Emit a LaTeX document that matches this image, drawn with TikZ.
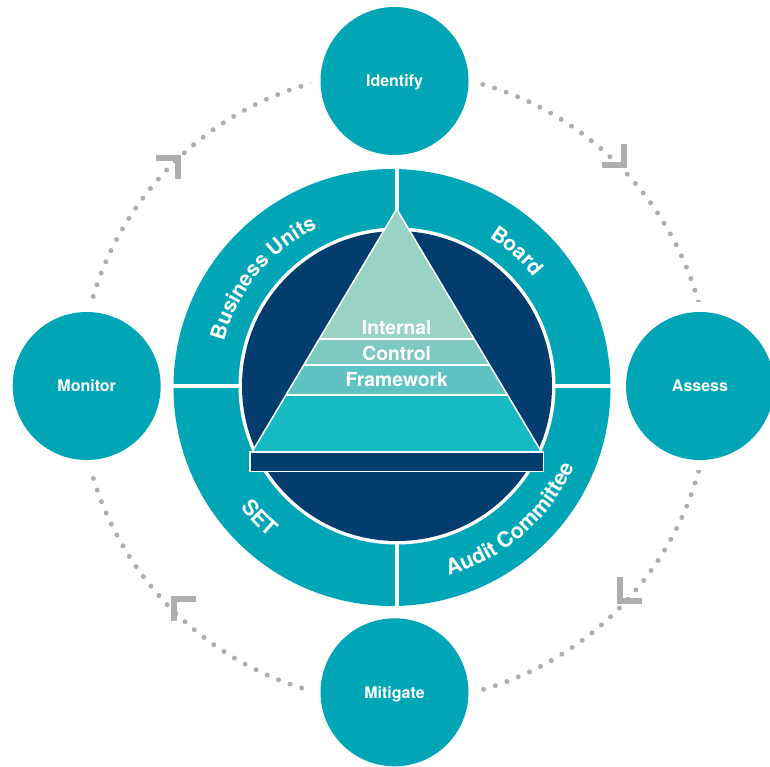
\documentclass[tikz,border=0pt]{standalone}
\usepackage{fontspec}
\setmainfont{TeX Gyre Heros}
\usetikzlibrary{decorations.text,calc}
\definecolor{tealA}{HTML}{00A6B5}
\definecolor{navyA}{HTML}{023D6D}
\definecolor{bandA}{HTML}{98D3C5}
\definecolor{bandB}{HTML}{7ECAC3}
\definecolor{bandC}{HTML}{5EC3C2}
\definecolor{bandD}{HTML}{17BAC2}
\definecolor{dotgray}{HTML}{AEAEB1}
\newcommand\ringfont{\bfseries\fontsize{21}{25}\selectfont}
\newcommand\ringfontB{\bfseries\fontsize{21.5}{25}\selectfont}
\tikzset{
  stage/.style={circle, fill=tealA, minimum size=148pt, inner sep=0pt, text=white,
    font=\bfseries\fontsize{16}{19}\selectfont, text height=11.5pt, text depth=0pt},
  halo/.style={fill=white},
  chevron/.style={draw=dotgray, line width=6pt, miter limit=10},
  dots/.style={draw=dotgray, line width=5pt, line cap=round, dash pattern=on 0pt off 12.3pt},
  pyrtext/.style={text=white, font=\bfseries\fontsize{19.3}{23}\selectfont, inner sep=0pt, anchor=base},
  sep/.style={draw=white, line width=4pt},
  ringlabel/.style={decorate, decoration={text along path, text align=center, text color=white, text={|\ringfont|#1}}},
  ringlabelB/.style={decorate, decoration={text along path, text align=center, text color=white, text={|\ringfontB|#1}}}
}
\begin{document}
\begin{tikzpicture}[x=1pt,y=-1pt]
\useasboundingbox (0,0) rectangle (770,766);
\coordinate (C) at (395,387);
\coordinate (O) at (392,387.5);
\coordinate (I) at (397,386);
% dotted cycle
\path[dots] (C) circle[radius=315pt];
% chevrons
\draw[chevron] (155.7,158) -- (177.7,158) -- (177.7,179.3);
\draw[chevron] (623.7,144) -- (623.7,165.3) -- (602.3,165.3);
\draw[chevron] (619.7,576.7) -- (619.7,601) -- (642.3,601);
\draw[chevron] (195.7,598.7) -- (173.7,598.7) -- (173.7,620.7);
% stage circles
\fill[halo] (394.5,81) circle[radius=84pt];
\fill[halo] (86.7,386) circle[radius=84pt];
\fill[halo] (700,386) circle[radius=84pt];
\fill[halo] (394.5,692.3) circle[radius=84pt];
\node[stage] (identify) at (394.5,81) {Identify};
\node[stage] (monitor) at (86.7,386) {Monitor};
\node[stage] (assess) at (700,386) {Assess};
\node[stage] (mitigate) at (394.5,692.3) {Mitigate};
% ring
\fill[tealA] (O) circle[radius=218.5pt];
\draw[sep] (396.7,165) -- (396.7,612);
\draw[sep] (168,386.3) -- (615,386.3);
\fill[white] (I) circle[radius=158.5pt];
\fill[navyA] (I) circle[radius=155pt];
% ring labels
\path[ringlabel={Business Units}] ($(C)+(180.5:177pt)$) arc[start angle=180.5, end angle=100.5, radius=177pt];
\path[ringlabel={Board}] ($(C)+(78:177pt)$) arc[start angle=78, end angle=18, radius=177pt];
\path[ringlabelB={SET}] ($(C)+(199:196pt)$) arc[start angle=199, end angle=249, radius=196pt];
\path[ringlabelB={Audit Committee}] ($(C)+(266:196pt)$) arc[start angle=266, end angle=356, radius=196pt];
% pyramid
\coordinate (A) at (396.7,209);
\coordinate (BL) at (252,452);
\coordinate (BR) at (541.5,452);
\fill[bandD] (A) -- (BL) -- (BR) -- cycle;
\fill[bandC] (A) -- ($(A)!0.7634!(BL)$) -- ($(A)!0.7634!(BR)$) -- cycle;
\fill[bandB] (A) -- ($(A)!0.6399!(BL)$) -- ($(A)!0.6399!(BR)$) -- cycle;
\fill[bandA] (A) -- ($(A)!0.5329!(BL)$) -- ($(A)!0.5329!(BR)$) -- cycle;
\draw[white, line width=2pt] ($(A)!0.7634!(BL)$) -- ($(A)!0.7634!(BR)$);
\draw[white, line width=2pt] ($(A)!0.6399!(BL)$) -- ($(A)!0.6399!(BR)$);
\draw[white, line width=2pt] ($(A)!0.5329!(BL)$) -- ($(A)!0.5329!(BR)$);
\draw[white, line width=1.5pt, line join=round] (A) -- (BL) -- (BR) -- cycle;
\draw[white, fill=navyA, line width=1.5pt] (250,452) rectangle (543.3,471.7);
\node[pyrtext] (t1) at (396.7,334) {Internal};
\node[pyrtext] (t2) at (396.7,360.7) {Control};
\node[pyrtext] (t3) at (396.7,386) {Framework};
\end{tikzpicture}
\end{document}
